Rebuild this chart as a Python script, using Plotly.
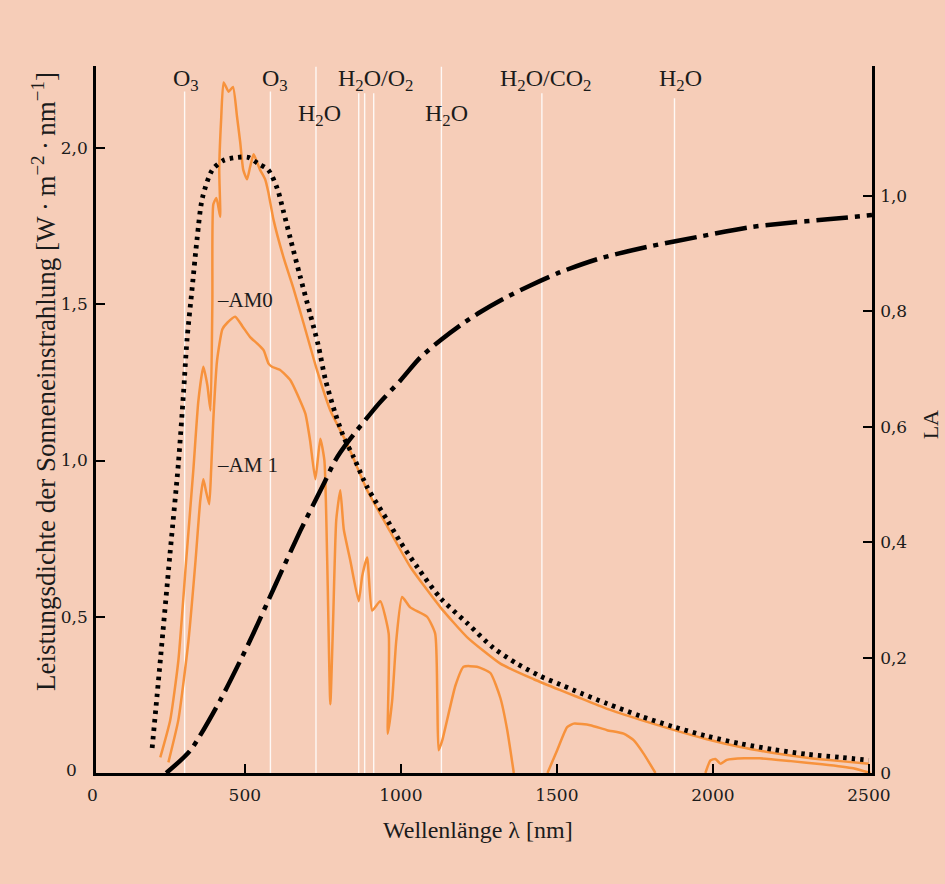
import plotly.graph_objects as go

# ---------------- data ----------------
# Black-body reference curve (dotted), W m^-2 nm^-1
dot_nm = [203, 230, 260, 287, 303, 315, 331, 347, 364, 396, 431, 476, 511, 543, 575,
          604, 623, 646, 677, 709, 735, 758, 790, 817, 849, 892, 956, 998, 1052, 1127,
          1212, 1297, 1372, 1447, 1511, 1554, 1661, 1768, 1874, 1981, 2088, 2195, 2302,
          2409, 2500]
dot_val = [0.08, 0.37, 0.70, 0.99, 1.21, 1.39, 1.55, 1.71, 1.84, 1.93, 1.96, 1.97, 1.97,
           1.95, 1.93, 1.87, 1.80, 1.71, 1.59, 1.47, 1.37, 1.26, 1.15, 1.075, 1.01, 0.915,
           0.81, 0.74, 0.66, 0.56, 0.48, 0.40, 0.35, 0.31, 0.283, 0.265, 0.222, 0.182,
           0.148, 0.118, 0.094, 0.075, 0.060, 0.050, 0.041]

# AM0 spectrum (upper orange curve)
am0_nm = [229, 261, 287, 312, 335, 351, 367, 380, 390, 396, 399, 409, 421, 418, 424, 432,
          448, 462, 475, 485, 495, 507, 517, 528, 537, 549, 565, 575, 592, 624, 656, 688,
          731, 774, 827, 892, 956, 1030, 1127, 1212, 1319, 1426, 1511, 1554, 1661, 1768,
          1874, 1981, 2088, 2195, 2302, 2409, 2500]
am0_val = [0.05, 0.17, 0.36, 0.68, 0.97, 1.19, 1.30, 1.24, 1.16, 1.51, 1.82, 1.84, 1.78,
           1.93, 2.09, 2.21, 2.18, 2.195, 2.10, 2.02, 1.93, 1.90, 1.94, 1.98, 1.96, 1.93,
           1.90, 1.86, 1.77, 1.65, 1.55, 1.44, 1.29, 1.16, 1.055, 0.905, 0.79, 0.66, 0.53,
           0.435, 0.35, 0.30, 0.265, 0.248, 0.205, 0.17, 0.138, 0.108, 0.083, 0.064,
           0.049, 0.038, 0.030]

# AM1 spectrum (lower orange curve), None = curve on the axis (zero)
am1_nm = [255, 287, 319, 342, 357, 367, 376, 386, 392, 399, 411, 428, 443, 469, 492, 517,
          539, 560, 576, 587, 614, 646, 678, 694, 709, 726, 742, 755, 764, 774, 783, 793,
          806, 817, 838, 865, 876, 892, 908, 934, 961, 958, 972, 985, 1004, 1030, 1084,
          1110, 1117, 1121, 1133, 1153, 1175, 1201, 1244, 1287, 1319, 1341, 1362,
          None,
          1470, 1501, 1533, 1554, 1607, 1661, 1714, 1746, 1778, 1816,
          None,
          1976, 1992, 2008, 2024, 2045, 2100, 2150, 2250, 2350, 2450, 2505]
am1_val = [0.034, 0.17, 0.42, 0.68, 0.87, 0.94, 0.90, 0.86, 0.97, 1.13, 1.32, 1.42, 1.44,
           1.46, 1.43, 1.395, 1.375, 1.353, 1.31, 1.30, 1.289, 1.257, 1.19, 1.15, 1.065,
           0.94, 1.07, 1.00, 0.68, 0.22, 0.49, 0.81, 0.905, 0.78, 0.68, 0.55, 0.63, 0.69,
           0.52, 0.55, 0.446, 0.126, 0.23, 0.42, 0.563, 0.53, 0.50, 0.446, 0.23, 0.073,
           0.105, 0.19, 0.28, 0.34, 0.34, 0.32, 0.24, 0.137, 0.0,
           None,
           0.0, 0.073, 0.147, 0.158, 0.153, 0.137, 0.126, 0.105, 0.062, 0.0,
           None,
           0.0, 0.04, 0.045, 0.03, 0.042, 0.047, 0.047, 0.038, 0.028, 0.015, 0.0]

# LA (right axis, dash-dot)
la_nm = [248, 325, 421, 517, 597, 678, 751, 790, 829, 931, 998, 1062, 1127, 1191, 1255,
         1319, 1415, 1511, 1639, 1800, 1960, 2120, 2216, 2377, 2510]
la_val = [0.0, 0.039, 0.126, 0.23, 0.325, 0.42, 0.499, 0.542, 0.573, 0.641, 0.68, 0.72,
          0.75, 0.776, 0.799, 0.819, 0.845, 0.868, 0.892, 0.913, 0.93, 0.946, 0.952,
          0.96, 0.967]

# absorption bands (white vertical lines) and their labels
band_nm = [307, 582, 728, 865, 884, 913, 1130, 1452, 1877]
band_top = [2.181, 2.181, 2.26, 2.175, 2.175, 2.175, 2.26, 2.175, 2.159]
band_labels = ["O<sub>3</sub>", "O<sub>3</sub>", "H<sub>2</sub>O", "H<sub>2</sub>O/O<sub>2</sub>",
               "H<sub>2</sub>O", "H<sub>2</sub>O/CO<sub>2</sub>", "H<sub>2</sub>O"]
band_label_nm = [312, 598, 739, 918, 1146, 1463, 1896]
band_label_y = [2.217, 2.217, 2.105, 2.217, 2.105, 2.217, 2.217]

x_ticks = [500, 1000, 1500, 2000, 2500]
y_ticks = [0.5, 1.0, 1.5, 2.0]
y_ticktext = ["0,5", "1,0", "1,5", "2,0"]
y2_ticks = [0, 0.2, 0.4, 0.6, 0.8, 1.0]
y2_ticktext = ["0", "0,2", "0,4", "0,6", "0,8", "1,0"]

# ---------------- styling ----------------
BG = "#F6CDB8"
ORANGE = "#F7923C"
INK = "#1b1b1b"
FONT = "Liberation Serif"
NUMFONT = "DejaVu Serif"

fig = go.Figure()
fig.add_trace(go.Scatter(x=am1_nm, y=am1_val, mode="lines", connectgaps=False,
                         line=dict(color=ORANGE, width=2.5, shape="spline", smoothing=0.5),
                         hoverinfo="skip"))
fig.add_trace(go.Scatter(x=am0_nm, y=am0_val, mode="lines",
                         line=dict(color=ORANGE, width=2.5, shape="spline", smoothing=0.5),
                         hoverinfo="skip"))
fig.add_trace(go.Scatter(x=dot_nm, y=dot_val, mode="lines",
                         line=dict(color="black", width=4.8, dash="3.5px,5px", shape="spline",
                                   smoothing=0.8),
                         hoverinfo="skip"))
fig.add_trace(go.Scatter(x=la_nm, y=la_val, mode="lines", yaxis="y2",
                         line=dict(color="black", width=4.5, dash="32px,7px,5px,7px",
                                   shape="spline", smoothing=0.7),
                         hoverinfo="skip"))

shapes = []
for bx, bt in zip(band_nm, band_top):
    shapes.append(dict(type="line", xref="x", yref="y", x0=bx, x1=bx, y0=0, y1=bt,
                       line=dict(color="rgba(255,255,255,0.85)", width=1.4), layer="below"))

annotations = []
for txt, lx, ly in zip(band_labels, band_label_nm, band_label_y):
    annotations.append(dict(text=txt, x=lx, y=ly, xref="x", yref="y", showarrow=False,
                            font=dict(family=FONT, size=24, color=INK),
                            xanchor="center", yanchor="middle"))

annotations += [
    dict(text="–AM0", x=405, y=1.513, xref="x", yref="y", showarrow=False,
         xanchor="left", yanchor="middle", font=dict(family=FONT, size=21, color=INK)),
    dict(text="–AM 1", x=405, y=0.985, xref="x", yref="y", showarrow=False,
         xanchor="left", yanchor="middle", font=dict(family=FONT, size=21, color=INK)),
    dict(text="Wellenlänge λ [nm]", x=0.492, y=-0.081, xref="paper", yref="paper",
         showarrow=False, xanchor="center", yanchor="middle",
         font=dict(family=FONT, size=24, color=INK)),
    dict(text="Leistungsdichte der Sonneneinstrahlung [W\u2009·\u2009m<sup>−2</sup>\u2009·\u2009nm<sup>−1</sup>]",
         x=-0.067, y=0.553, xref="paper", yref="paper", showarrow=False, textangle=-90,
         xanchor="center", yanchor="middle", font=dict(family=FONT, size=27, color=INK)),
    dict(text="LA", x=1.075, y=0.492, xref="paper", yref="paper", showarrow=False,
         textangle=-90, xanchor="center", yanchor="middle",
         font=dict(family=FONT, size=22, color=INK)),
    dict(text="0", x=-0.031, y=0.004, xref="paper", yref="paper", showarrow=False,
         xanchor="center", yanchor="middle", font=dict(family=NUMFONT, size=17, color=INK)),
    dict(text="0", x=-0.005, y=-0.031, xref="paper", yref="paper", showarrow=False,
         xanchor="center", yanchor="middle", font=dict(family=NUMFONT, size=17, color=INK)),
]

axis_common = dict(showline=True, linecolor="black", linewidth=2.5, showgrid=False,
                   zeroline=False, ticks="inside", ticklen=9, tickwidth=2,
                   tickcolor="black", tickfont=dict(family=NUMFONT, size=17, color=INK))

fig.update_layout(
    width=945, height=884,
    margin=dict(l=96, r=73, t=66, b=111),
    paper_bgcolor=BG, plot_bgcolor=BG,
    showlegend=False,
    font=dict(family=FONT, size=18, color=INK),
    xaxis=dict(range=[23, 2510], tickvals=x_ticks, ticklabelstandoff=5, **axis_common),
    yaxis=dict(range=[0, 2.2624], tickvals=y_ticks, ticktext=y_ticktext,
               ticklabelstandoff=2, **axis_common),
    yaxis2=dict(range=[0, 1.2253], tickvals=y2_ticks, ticktext=y2_ticktext,
                overlaying="y", side="right", ticklabelstandoff=2, **axis_common),
    shapes=shapes,
    annotations=annotations,
)

fig.write_html(
    "out.html",
    config={"displayModeBar": False},
    post_script="document.body.style.margin='0';document.body.style.background='%s';" % BG,
)
